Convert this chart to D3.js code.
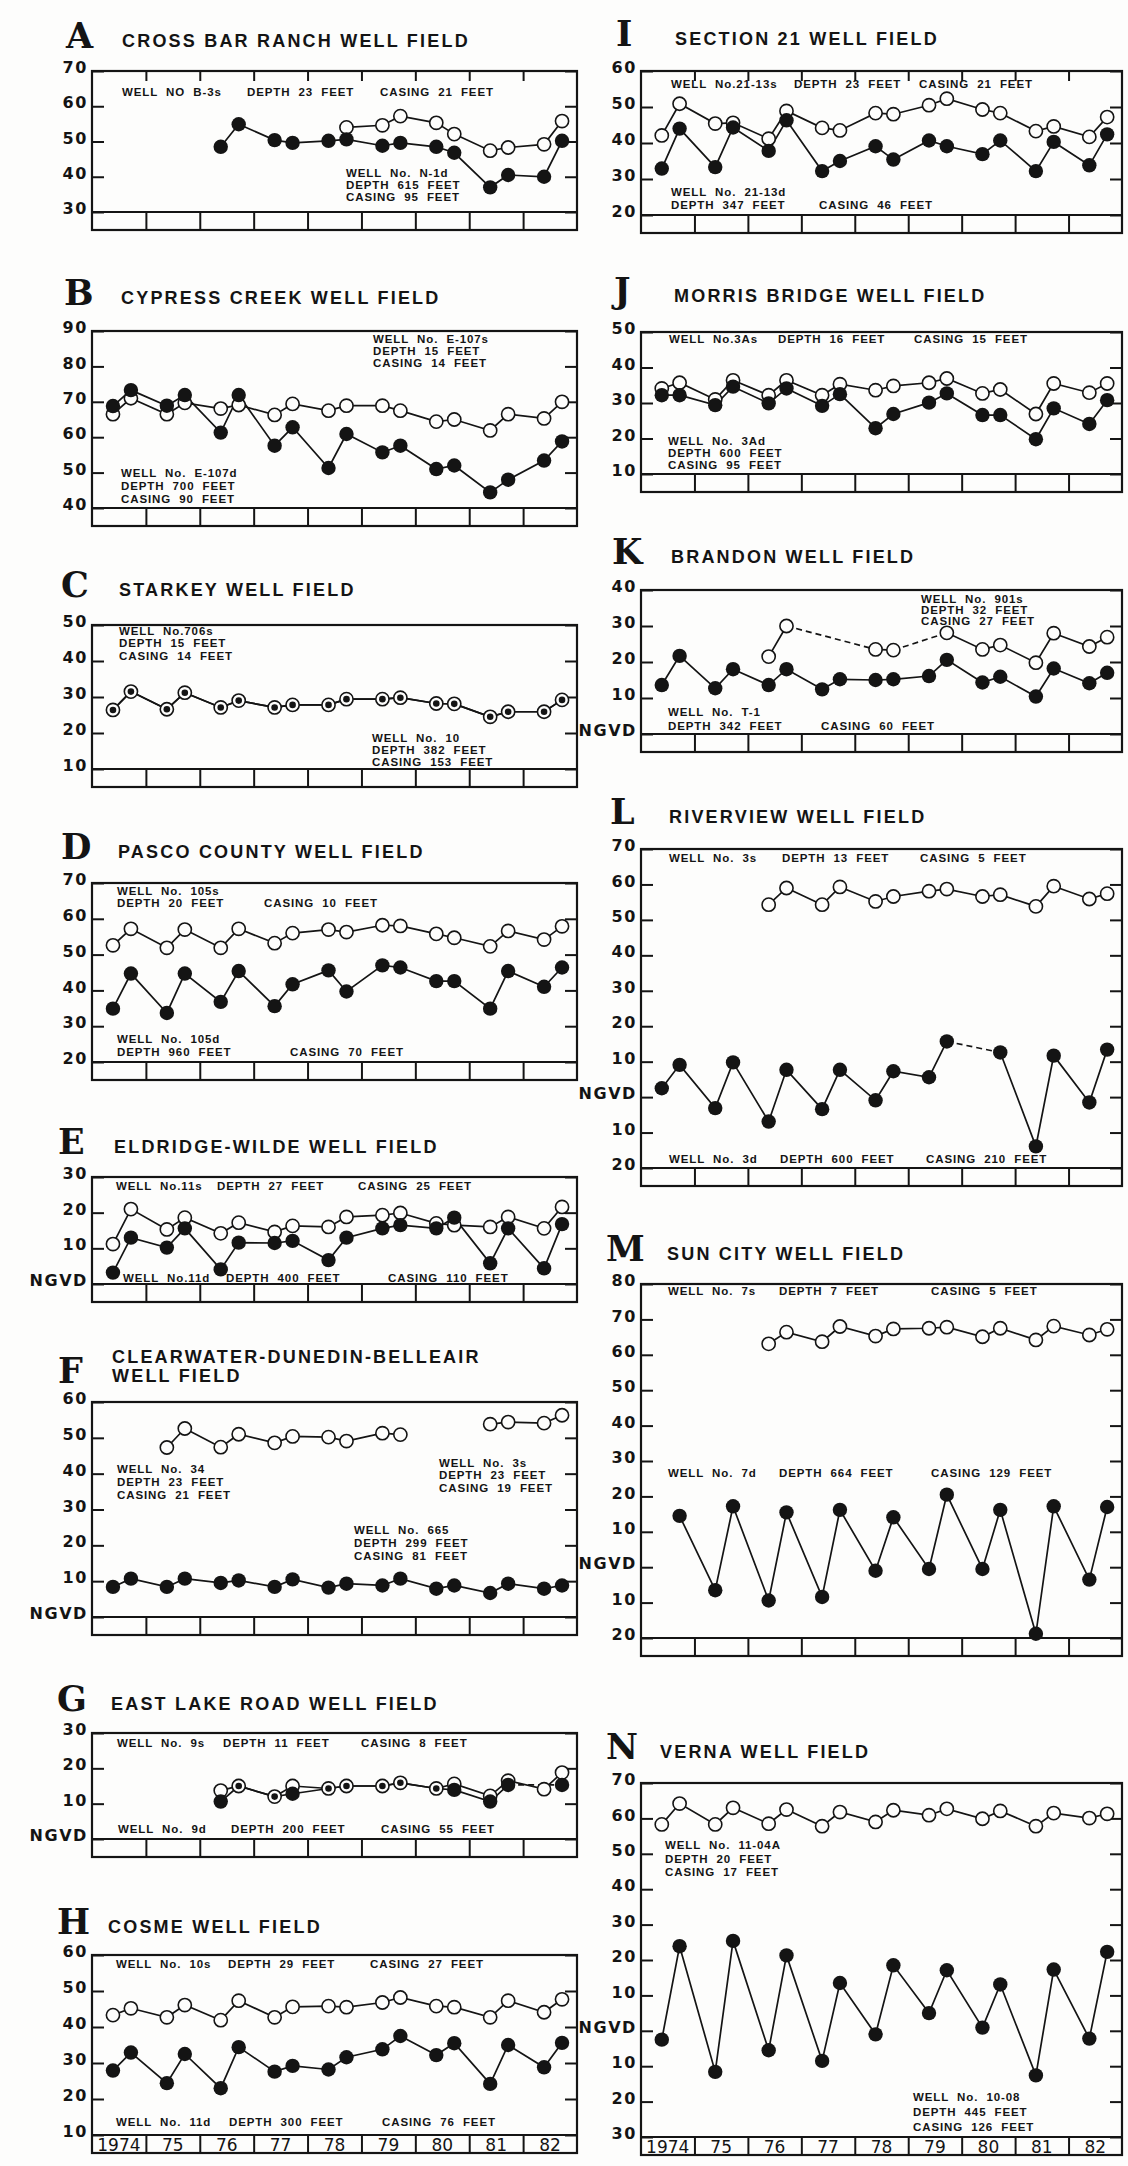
<!DOCTYPE html>
<html>
<head>
<meta charset="utf-8">
<script src="https://cdn.jsdelivr.net/npm/d3@7"></script>
<style>
body{margin:0;background:#fdfdfc;}
text{fill:#141414;}
.ttl{font-family:"Liberation Sans",Arial,sans-serif;font-weight:bold;font-size:18px;letter-spacing:2.2px;}
.let{font-family:"DejaVu Serif",serif;font-weight:bold;font-size:35px;}
.tk{font-family:"DejaVu Sans",sans-serif;font-weight:bold;font-size:16px;letter-spacing:1.6px;}
.note{font-family:"Liberation Sans",Arial,sans-serif;font-weight:bold;font-size:11.5px;letter-spacing:0.9px;word-spacing:4px;}
.yr{font-family:"DejaVu Sans",sans-serif;font-size:17px;}
</style>
</head>
<body>
<div id="canvas"></div>
<script>
console.log('wells');

// sampling: two readings a year, May (dry season) and September (wet season)
var years = [1974,1975,1976,1977,1978,1979,1980,1981,1982];
var yearLabels = ['1974','75','76','77','78','79','80','81','82'];
var sampleMonths = ['May','Sep'];
var monthIndex = {May:4, Sep:8};
var sampleDay = 20;

// water levels, feet above NGVD (null = no reading)
var aShallow = [null,null,null,null,null,null,null,null,null,54.0,54.6,57.2,55.3,52.1,47.4,48.3,49.2,55.8];
var aDeep    = [null,null,null,null,48.5,54.9,50.4,49.6,50.2,50.6,48.8,49.6,48.5,46.8,37.0,40.5,40.0,50.2];
var aTicks = [30,40,50,60,70];

var bShallow = [66.5,71.0,66.5,69.7,68.1,69.1,66.3,69.4,67.5,68.9,68.9,67.5,64.4,65.0,61.9,66.5,65.3,70.0];
var bDeep    = [68.8,73.3,68.9,71.9,61.3,71.9,57.6,62.8,51.3,60.9,55.7,57.6,51.0,52.0,44.4,48.0,53.4,58.8];
var bTicks = [40,50,60,70,80,90];

var cShallow = [26.4,31.5,26.6,31.2,27.1,29.0,27.1,27.8,27.8,29.4,29.4,29.8,28.2,28.1,24.5,25.9,25.9,29.2];
var cDeep    = [26.4,31.5,26.6,31.2,27.1,29.0,27.1,27.8,27.8,29.4,29.4,29.8,28.2,28.1,24.5,25.9,25.9,29.2];
var cTicks = [10,20,30,40,50];

var dShallow = [52.6,57.2,51.9,57.0,51.9,57.2,53.2,56.0,57.0,56.3,58.2,58.0,55.8,54.7,52.3,56.6,54.2,57.9];
var dDeep    = [34.9,44.7,33.7,44.7,36.8,45.4,35.6,41.7,45.6,39.7,47.0,46.4,42.6,42.6,34.9,45.4,41.0,46.4];
var dTicks = [20,30,40,50,60,70];

var eShallow = [11.2,21.0,15.3,18.6,14.2,17.2,14.6,16.3,16.0,18.8,19.3,19.9,17.0,16.5,16.0,18.8,15.6,21.6];
var eDeep    = [3.2,13.0,10.2,15.6,4.1,11.6,11.5,12.1,6.7,13.0,15.6,16.5,15.6,18.6,5.8,15.6,4.4,16.8];
var eTicks = [0,10,20,30];

var fShallow34 = [null,null,47.3,52.6,47.4,51.0,48.6,50.4,50.2,49.1,51.3,50.9,null,null,null,null,null,null];
var fShallow3s = [null,null,null,null,null,null,null,null,null,null,null,null,null,null,53.8,54.4,54.1,56.3];
var fDeep      = [8.4,10.7,8.4,10.7,9.5,10.2,8.4,10.5,8.2,9.3,8.8,10.7,7.9,8.8,6.7,9.3,7.9,8.8];
var fTicks = [0,10,20,30,40,50,60];

var gShallow = [null,null,null,null,13.7,15.0,12.0,15.0,14.3,15.0,15.0,15.9,14.3,15.6,12.2,16.5,14.1,18.8];
var gDeep    = [null,null,null,null,10.6,15.0,12.0,12.8,14.3,15.0,15.0,15.9,14.3,13.9,10.6,15.3,null,15.3];
var gTicks = [0,10,20,30];

var hShallow = [43.3,45.2,42.7,46.1,41.9,47.3,42.7,45.6,45.8,45.5,46.8,48.2,45.8,45.5,42.7,47.3,44.1,47.7];
var hDeep    = [27.9,32.9,24.4,32.5,23.0,34.4,27.6,29.2,28.2,31.6,33.8,37.5,32.2,35.5,24.2,35.0,28.8,35.6];
var hTicks = [10,20,30,40,50,60];

var iShallow = [42.1,50.9,45.4,45.6,41.2,48.9,44.2,43.5,48.3,48.0,50.5,52.3,49.3,48.3,43.3,44.6,41.7,47.2];
var iDeep    = [32.9,44.0,33.3,44.3,37.8,46.3,32.2,35.0,39.1,35.4,40.7,39.1,36.9,40.7,32.2,40.3,33.8,42.4];
var iTicks = [20,30,40,50,60];

var jShallow = [34.1,35.7,31.0,36.4,32.2,36.4,32.2,35.3,33.6,34.8,35.7,36.9,32.7,33.8,26.9,35.5,32.9,35.5];
var jDeep    = [32.2,32.2,29.4,34.6,29.9,34.1,29.2,32.5,22.9,26.9,30.1,32.7,26.6,26.6,19.8,28.5,24.1,30.8];
var jTicks = [10,20,30,40,50];

var kShallow = [null,null,null,null,21.5,30.0,null,null,23.5,23.3,null,28.1,23.5,24.7,19.8,28.0,24.3,26.9];
var kDeep    = [13.6,21.7,12.7,18.0,13.6,18.0,12.4,15.2,15.0,15.2,16.1,20.6,14.3,15.9,10.4,18.2,14.1,17.0];
var kTicks = [0,10,20,30,40];

var lShallow = [null,null,null,null,54.3,59.0,54.3,59.3,55.2,56.6,58.1,58.7,56.6,57.1,53.8,59.5,55.9,57.4];
var lDeep    = [2.5,9.1,-3.1,9.8,-6.9,7.7,-3.4,7.7,-0.9,7.3,5.6,15.7,null,12.6,-13.9,11.7,-1.5,13.4];
var lTicks = [-20,-10,0,10,20,30,40,50,60,70];

var mShallow = [null,null,null,null,63.1,66.4,63.7,68.0,65.3,67.3,67.5,67.8,65.1,67.5,64.2,68.1,65.6,67.2];
var mDeep    = [null,14.5,-6.5,17.2,-9.4,15.5,-8.4,16.2,-1.0,14.1,-0.5,20.5,-0.5,16.2,-18.8,17.2,-3.5,17.0];
var mTicks = [-20,-10,0,10,20,30,40,50,60,70,80];

var nShallow = [58.3,64.2,58.3,63.0,58.5,62.5,57.8,61.8,59.0,62.3,60.9,62.7,59.9,62.1,57.8,61.5,60.1,61.3];
var nDeep    = [-2.5,23.9,-11.6,25.4,-5.5,21.3,-8.5,13.5,-1.0,18.5,5.0,17.1,0.9,13.1,-12.6,17.3,-2.2,22.3];
var nTicks = [-30,-20,-10,0,10,20,30,40,50,60,70];

// layout of the two columns of panels
var cols = [{x0:92, x1:577}, {x0:641, x1:1122}];
var bandH = 18;

var panels = [
  {id:'A', col:0, letterX:66, titleX:122, titleY:47, top:71, bottom:212, ticks:aTicks, topTicks:true,
   title:['CROSS BAR RANCH WELL FIELD'],
   series:[{v:aShallow, open:true},{v:aDeep}],
   notes:[['WELL NO B-3s',122,96],['DEPTH 23 FEET',247,96],['CASING 21 FEET',380,96],
          ['WELL No. N-1d',346,177],['DEPTH 615 FEET',346,189],['CASING 95 FEET',346,201]]},
  {id:'B', col:0, letterX:64, titleX:121, titleY:304, top:331, bottom:508, ticks:bTicks,
   title:['CYPRESS CREEK WELL FIELD'],
   series:[{v:bShallow, open:true},{v:bDeep}],
   notes:[['WELL No. E-107s',373,343],['DEPTH 15 FEET',373,355],['CASING 14 FEET',373,367],
          ['WELL No. E-107d',121,477],['DEPTH 700 FEET',121,490],['CASING 90 FEET',121,503]]},
  {id:'C', col:0, letterX:61, titleX:119, titleY:596, top:625, bottom:769, ticks:cTicks,
   title:['STARKEY WELL FIELD'],
   series:[{v:cShallow, open:true},{v:cDeep}],
   notes:[['WELL No.706s',119,635],['DEPTH 15 FEET',119,647],['CASING 14 FEET',119,660],
          ['WELL No. 10',372,742],['DEPTH 382 FEET',372,754],['CASING 153 FEET',372,766]]},
  {id:'D', col:0, letterX:61, titleX:118, titleY:858, top:883, bottom:1062, ticks:dTicks,
   title:['PASCO COUNTY WELL FIELD'],
   series:[{v:dShallow, open:true},{v:dDeep}],
   notes:[['WELL No. 105s',117,895],['DEPTH 20 FEET',117,907],['CASING 10 FEET',264,907],
          ['WELL No. 105d',117,1043],['DEPTH 960 FEET',117,1056],['CASING 70 FEET',290,1056]]},
  {id:'E', col:0, letterX:58, titleX:114, titleY:1153, top:1177, bottom:1284, ticks:eTicks,
   title:['ELDRIDGE-WILDE WELL FIELD'],
   series:[{v:eShallow, open:true},{v:eDeep}],
   notes:[['WELL No.11s',116,1190],['DEPTH 27 FEET',217,1190],['CASING 25 FEET',358,1190],
          ['WELL No.11d',123,1282],['DEPTH 400 FEET',226,1282],['CASING 110 FEET',388,1282]]},
  {id:'F', col:0, letterX:58, titleX:112, titleY:1382, top:1402, bottom:1617, ticks:fTicks,
   title:['CLEARWATER-DUNEDIN-BELLEAIR','WELL FIELD'],
   series:[{v:fShallow34, open:true},{v:fShallow3s, open:true},{v:fDeep}],
   notes:[['WELL No. 34',117,1473],['DEPTH 23 FEET',117,1486],['CASING 21 FEET',117,1499],
          ['WELL No. 3s',439,1467],['DEPTH 23 FEET',439,1479],['CASING 19 FEET',439,1492],
          ['WELL No. 665',354,1534],['DEPTH 299 FEET',354,1547],['CASING 81 FEET',354,1560]]},
  {id:'G', col:0, letterX:57, titleX:111, titleY:1710, top:1733, bottom:1839, ticks:gTicks,
   title:['EAST LAKE ROAD WELL FIELD'],
   series:[{v:gShallow, open:true},{v:gDeep, bridge:true}],
   notes:[['WELL No. 9s',117,1747],['DEPTH 11 FEET',223,1747],['CASING 8 FEET',361,1747],
          ['WELL No. 9d',118,1833],['DEPTH 200 FEET',231,1833],['CASING 55 FEET',381,1833]]},
  {id:'H', col:0, letterX:57, titleX:108, titleY:1933, top:1955, bottom:2135, ticks:hTicks, yearAxis:true,
   title:['COSME WELL FIELD'],
   series:[{v:hShallow, open:true},{v:hDeep}],
   notes:[['WELL No. 10s',116,1968],['DEPTH 29 FEET',228,1968],['CASING 27 FEET',370,1968],
          ['WELL No. 11d',116,2126],['DEPTH 300 FEET',229,2126],['CASING 76 FEET',382,2126]]},
  {id:'I', col:1, letterX:616, titleX:675, titleY:45, top:71, bottom:215, ticks:iTicks, topTicks:true,
   title:['SECTION 21 WELL FIELD'],
   series:[{v:iShallow, open:true},{v:iDeep}],
   notes:[['WELL No.21-13s',671,88],['DEPTH 23 FEET',794,88],['CASING 21 FEET',919,88],
          ['WELL No. 21-13d',671,196],['DEPTH 347 FEET',671,209],['CASING 46 FEET',819,209]]},
  {id:'J', col:1, letterX:614, titleX:674, titleY:302, top:332, bottom:474, ticks:jTicks,
   title:['MORRIS BRIDGE WELL FIELD'],
   series:[{v:jShallow, open:true},{v:jDeep}],
   notes:[['WELL No.3As',669,343],['DEPTH 16 FEET',778,343],['CASING 15 FEET',914,343],
          ['WELL No. 3Ad',668,445],['DEPTH 600 FEET',668,457],['CASING 95 FEET',668,469]]},
  {id:'K', col:1, letterX:612, titleX:671, titleY:563, top:590, bottom:734, ticks:kTicks,
   title:['BRANDON WELL FIELD'],
   series:[{v:kShallow, open:true, bridge:true},{v:kDeep}],
   notes:[['WELL No. 901s',921,603],['DEPTH 32 FEET',921,614],['CASING 27 FEET',921,625],
          ['WELL No. T-1',668,716],['DEPTH 342 FEET',668,730],['CASING 60 FEET',821,730]]},
  {id:'L', col:1, letterX:610, titleX:669, titleY:823, top:849, bottom:1168, ticks:lTicks,
   title:['RIVERVIEW WELL FIELD'],
   series:[{v:lShallow, open:true},{v:lDeep, bridge:true}],
   notes:[['WELL No. 3s',669,862],['DEPTH 13 FEET',782,862],['CASING 5 FEET',920,862],
          ['WELL No. 3d',669,1163],['DEPTH 600 FEET',780,1163],['CASING 210 FEET',926,1163]]},
  {id:'M', col:1, letterX:606, titleX:667, titleY:1260, top:1284, bottom:1638, ticks:mTicks,
   title:['SUN CITY WELL FIELD'],
   series:[{v:mShallow, open:true},{v:mDeep}],
   notes:[['WELL No. 7s',668,1295],['DEPTH 7 FEET',779,1295],['CASING 5 FEET',931,1295],
          ['WELL No. 7d',668,1477],['DEPTH 664 FEET',779,1477],['CASING 129 FEET',931,1477]]},
  {id:'N', col:1, letterX:606, titleX:660, titleY:1758, top:1783, bottom:2137, ticks:nTicks, yearAxis:true,
   title:['VERNA WELL FIELD'],
   series:[{v:nShallow, open:true},{v:nDeep}],
   notes:[['WELL No. 11-04A',665,1849],['DEPTH 20 FEET',665,1863],['CASING 17 FEET',665,1876],
          ['WELL No. 10-08',913,2101],['DEPTH 445 FEET',913,2116],['CASING 126 FEET',913,2131]]}
];

var W = 1128, H = 2166, ink = '#141414';

var times = [];
years.forEach(function(yr){
  sampleMonths.forEach(function(m){ times.push(yr + (monthIndex[m] + sampleDay/30)/12); });
});

var svg = d3.select('#canvas').append('svg')
    .attr('width', W).attr('height', H);
svg.append('rect').attr('width', W).attr('height', H).attr('fill', '#fdfdfc');

function tickLabel(v){
  if (v === 0) return 'NGVD';
  return String(Math.abs(v));
}

panels.forEach(drawPanel);

function drawPanel(p){
  var c = cols[p.col];
  var x = d3.scaleLinear().domain([years[0], years[years.length-1] + 1]).range([c.x0, c.x1]);
  var y = d3.scaleLinear().domain([p.ticks[0], p.ticks[p.ticks.length-1]]).range([p.bottom, p.top]);
  var g = svg.append('g').attr('class', 'panel');

  // heading
  g.append('text').attr('class', 'let').attr('x', p.letterX).attr('y', p.titleY + 1).text(p.id);
  p.title.forEach(function(t, i){
    g.append('text').attr('class', 'ttl')
      .attr('x', p.titleX).attr('y', p.titleY - (p.title.length - 1 - i) * 19).text(t);
  });

  // y axis left, ticks pointing in
  var ax = g.append('g').attr('transform', 'translate(' + c.x0 + ',0)')
    .call(d3.axisLeft(y).tickValues(p.ticks).tickSize(-12).tickPadding(4).tickFormat(tickLabel));
  ax.select('.domain').remove();
  ax.attr('font-size', null).attr('font-family', null);
  ax.selectAll('line').attr('stroke', ink).attr('stroke-width', 2);
  ax.selectAll('text').attr('class', 'tk').attr('dy', '0.1em');

  // y axis right, ticks only
  var axr = g.append('g').attr('transform', 'translate(' + c.x1 + ',0)')
    .call(d3.axisRight(y).tickValues(p.ticks).tickSize(-12).tickFormat(''));
  axr.select('.domain').remove();
  axr.selectAll('line').attr('stroke', ink).attr('stroke-width', 2);

  if (p.topTicks){
    var axt = g.append('g').attr('transform', 'translate(0,' + p.top + ')')
      .call(d3.axisTop(x).tickValues(years.slice(1)).tickSize(-10).tickFormat(''));
    axt.select('.domain').remove();
    axt.selectAll('line').attr('stroke', ink).attr('stroke-width', 2);
  }

  // year band under the plot
  var axb = g.append('g').attr('transform', 'translate(0,' + p.bottom + ')')
    .call(d3.axisBottom(x).tickValues(years.slice(1)).tickSize(bandH).tickFormat(''));
  axb.select('.domain').remove();
  axb.selectAll('line').attr('stroke', ink).attr('stroke-width', 2);

  g.append('line').attr('x1', c.x0).attr('x2', c.x1).attr('y1', p.bottom).attr('y2', p.bottom)
    .attr('stroke', ink).attr('stroke-width', 2.2);
  g.append('rect').attr('x', c.x0).attr('y', p.top)
    .attr('width', c.x1 - c.x0).attr('height', p.bottom + bandH - p.top)
    .attr('fill', 'none').attr('stroke', ink).attr('stroke-width', 2.2);

  if (p.yearAxis){
    g.selectAll('.yr').data(years).enter().append('text')
      .attr('class', 'yr')
      .attr('x', function(d){ return x(d + 0.5); })
      .attr('y', p.bottom + bandH - 2)
      .attr('text-anchor', 'middle')
      .text(function(d, i){ return yearLabels[i]; });
  }

  // well notes
  p.notes.forEach(function(n){
    g.append('text').attr('class', 'note').attr('x', n[1]).attr('y', n[2]).text(n[0]);
  });

  // data
  var line = d3.line()
    .defined(function(d){ return d.v != null; })
    .x(function(d){ return x(d.t); })
    .y(function(d){ return y(d.v); });

  var sets = p.series.map(function(s){
    return times.map(function(t, i){ return {t:t, v:s.v[i], i:i}; });
  });

  p.series.forEach(function(s, k){
    var pts = sets[k];
    g.append('path').datum(pts).attr('d', line)
      .attr('fill', 'none').attr('stroke', ink).attr('stroke-width', 1.7);
    if (s.bridge){
      var def = pts.filter(function(d){ return d.v != null; });
      for (var j = 1; j < def.length; j++){
        if (def[j].i - def[j-1].i > 1){
          g.append('line')
            .attr('x1', x(def[j-1].t)).attr('y1', y(def[j-1].v))
            .attr('x2', x(def[j].t)).attr('y2', y(def[j].v))
            .attr('stroke', ink).attr('stroke-width', 1.7).attr('stroke-dasharray', '6,4');
        }
      }
    }
  });

  var openVals = [];
  p.series.forEach(function(s){
    if (s.open) s.v.forEach(function(v, i){ if (v != null) openVals[i] = v; });
  });

  p.series.forEach(function(s, k){
    if (!s.open) return;
    g.selectAll(null).data(sets[k].filter(function(d){ return d.v != null; })).enter()
      .append('circle')
      .attr('cx', function(d){ return x(d.t); })
      .attr('cy', function(d){ return y(d.v); })
      .attr('r', 6.6)
      .attr('fill', '#fdfdfc').attr('stroke', ink).attr('stroke-width', 1.6);
  });

  p.series.forEach(function(s, k){
    if (s.open) return;
    var pts = sets[k].filter(function(d){ return d.v != null; });
    g.selectAll(null).data(pts).enter()
      .append('circle')
      .attr('cx', function(d){ return x(d.t); })
      .attr('cy', function(d){ return y(d.v); })
      .attr('r', function(d){
        var o = openVals[d.i];
        return (o != null && Math.abs(o - d.v) < 0.6) ? 3.3 : 7.2;
      })
      .attr('fill', ink);
  });
}
</script>
</body>
</html>
